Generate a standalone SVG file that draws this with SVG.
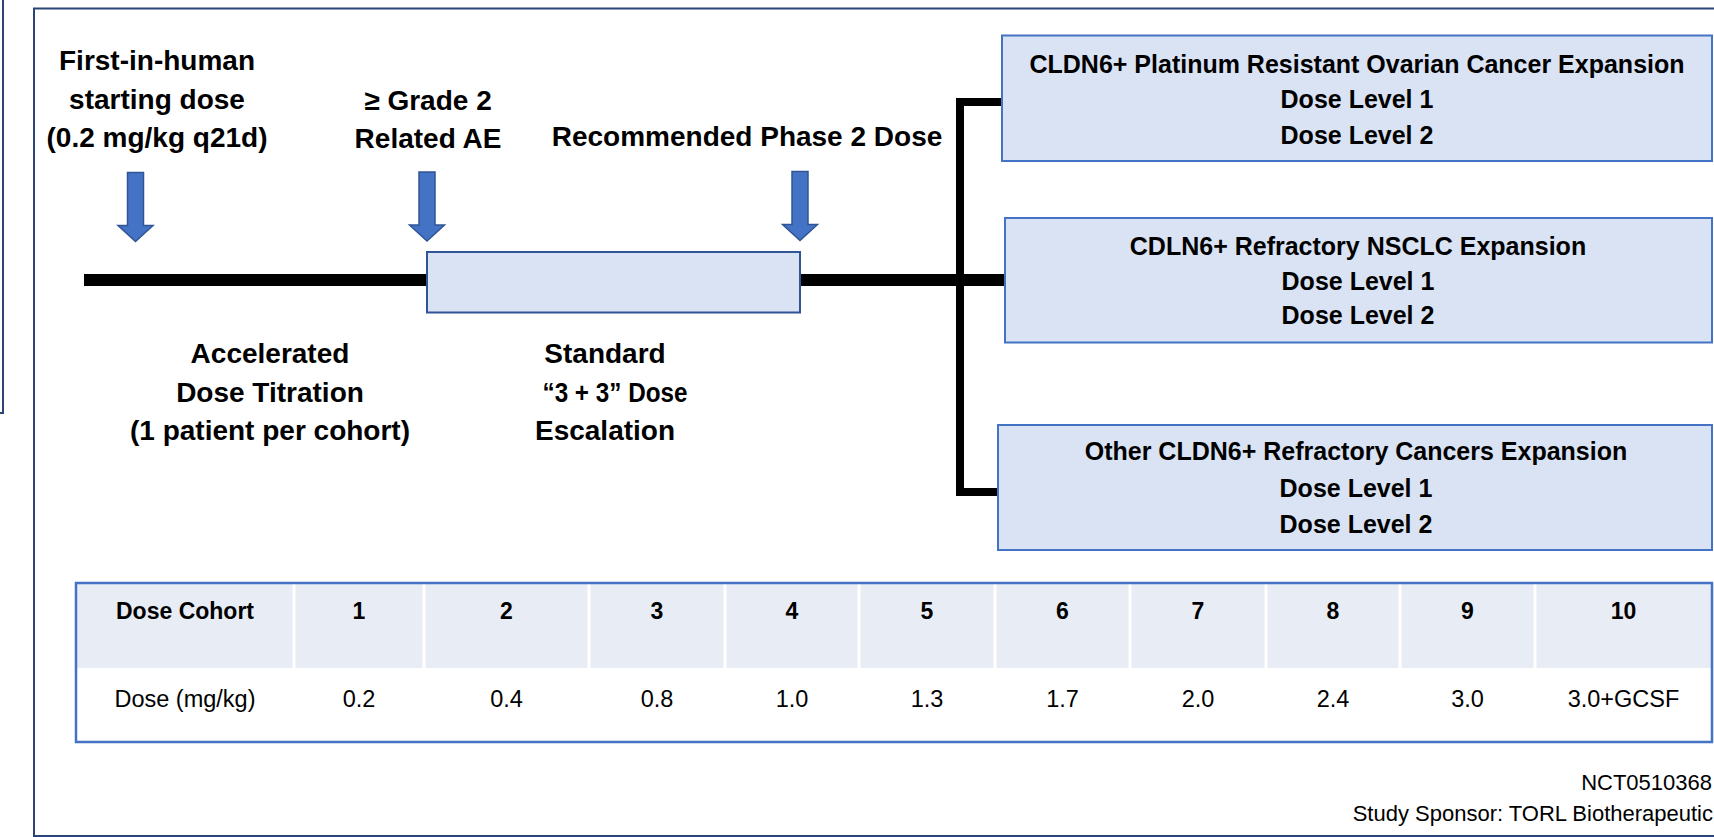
<svg xmlns="http://www.w3.org/2000/svg" width="1714" height="837" viewBox="0 0 1714 837">
<style>
  .frame{fill:none;stroke:#2B4478;stroke-width:2}
  .box{fill:#DAE3F3;stroke:#4472C4;stroke-width:2}
  .tbox{fill:#DAE3F3;stroke:#2F5597;stroke-width:2}
  .arrow{fill:#4472C4;stroke:#2F5597;stroke-width:1.5}
  .conn{fill:none;stroke:#000;stroke-linejoin:miter;stroke-linecap:butt}
  .lbl{font-family:"Liberation Sans",Arial,sans-serif;font-weight:bold;font-size:28px;fill:#000;text-anchor:middle}
  .btxt{font-family:"Liberation Sans",Arial,sans-serif;font-weight:bold;font-size:25px;fill:#000;text-anchor:middle}
  .th{font-family:"Liberation Sans",Arial,sans-serif;font-weight:bold;font-size:23px;fill:#000;text-anchor:middle}
  .td{font-family:"Liberation Sans",Arial,sans-serif;font-size:23.5px;fill:#000;text-anchor:middle}
  .foot{font-family:"Liberation Sans",Arial,sans-serif;font-size:22px;fill:#000;text-anchor:end}
</style>
<defs>
  <path id="dnArrow" d="M -8,0 H 8 V 53 H 17.5 L 0,69 L -17.5,53 H -8 Z"/>
</defs>
<rect width="1714" height="837" fill="#fff"/>
<!-- frames -->
<rect class="frame" x="-10" y="-10" width="13" height="423"/>
<rect class="frame" x="34" y="8.5" width="1700" height="827.5"/>

<!-- connectors -->
<g id="connectors">
  <line class="conn" x1="84" y1="280" x2="427" y2="280" stroke-width="12"/>
  <line class="conn" x1="800" y1="280" x2="1005" y2="280" stroke-width="12"/>
  <path class="conn" d="M 1002,102 H 960 V 492 H 998" stroke-width="8"/>
</g>

<!-- arrows -->
<g id="arrow-start"><use href="#dnArrow" class="arrow" transform="translate(135.5,172.5)"/></g>
<g id="arrow-grade2"><use href="#dnArrow" class="arrow" transform="translate(427,172)"/></g>
<g id="arrow-rp2d"><use href="#dnArrow" class="arrow" transform="translate(800,171.5)"/></g>

<!-- labels above -->
<g id="label-fih">
  <text class="lbl" x="157" y="70">First-in-human</text>
  <text class="lbl" x="157" y="108.5">starting dose</text>
  <text class="lbl" x="157" y="147">(0.2 mg/kg q21d)</text>
</g>
<g id="label-grade2">
  <text class="lbl" x="428" y="109.5">≥ Grade 2</text>
  <text class="lbl" x="428" y="148">Related AE</text>
</g>
<g id="label-rp2d">
  <text class="lbl" x="747" y="146">Recommended Phase 2 Dose</text>
</g>

<!-- timeline box -->
<g id="node-standard-box">
  <rect class="tbox" x="427" y="252" width="373" height="60.5"/>
</g>

<!-- labels below -->
<g id="label-accelerated">
  <text class="lbl" x="270" y="363">Accelerated</text>
  <text class="lbl" x="270" y="401.5">Dose Titration</text>
  <text class="lbl" x="270" y="440">(1 patient per cohort)</text>
</g>
<g id="label-standard">
  <text class="lbl" x="605" y="363">Standard</text>
  <text class="lbl" x="615" y="401.5" textLength="145" lengthAdjust="spacingAndGlyphs">“3 + 3” Dose</text>
  <text class="lbl" x="605" y="440">Escalation</text>
</g>

<!-- expansion boxes -->
<g id="node-ovarian">
  <rect class="box" x="1002" y="35.5" width="710" height="125.5"/>
  <text class="btxt" x="1357" y="72.5">CLDN6+ Platinum Resistant Ovarian Cancer Expansion</text>
  <text class="btxt" x="1357" y="108">Dose Level 1</text>
  <text class="btxt" x="1357" y="143.5">Dose Level 2</text>
</g>
<g id="node-nsclc">
  <rect class="box" x="1005" y="218" width="707" height="124.5"/>
  <text class="btxt" x="1358" y="255">CDLN6+ Refractory NSCLC Expansion</text>
  <text class="btxt" x="1358" y="289.5">Dose Level 1</text>
  <text class="btxt" x="1358" y="324">Dose Level 2</text>
</g>
<g id="node-other">
  <rect class="box" x="998" y="425" width="714" height="125"/>
  <text class="btxt" x="1356" y="460">Other CLDN6+ Refractory Cancers Expansion</text>
  <text class="btxt" x="1356" y="496.5">Dose Level 1</text>
  <text class="btxt" x="1356" y="532.5">Dose Level 2</text>
</g>

<!-- table -->
<g id="dose-table">
  <rect x="76" y="583" width="1636" height="85" fill="#E8ECF4"/>
  <g stroke="#fff" stroke-width="3">
    <line x1="294" y1="583" x2="294" y2="668"/>
    <line x1="424" y1="583" x2="424" y2="668"/>
    <line x1="589" y1="583" x2="589" y2="668"/>
    <line x1="725" y1="583" x2="725" y2="668"/>
    <line x1="859" y1="583" x2="859" y2="668"/>
    <line x1="995" y1="583" x2="995" y2="668"/>
    <line x1="1130" y1="583" x2="1130" y2="668"/>
    <line x1="1266" y1="583" x2="1266" y2="668"/>
    <line x1="1400" y1="583" x2="1400" y2="668"/>
    <line x1="1535" y1="583" x2="1535" y2="668"/>
  </g>
  <rect x="76" y="583" width="1636" height="159" fill="none" stroke="#4472C4" stroke-width="2.5"/>
  <text class="th" x="185" y="618.5">Dose Cohort</text>
  <text class="th" x="359" y="618.5">1</text>
  <text class="th" x="506.5" y="618.5">2</text>
  <text class="th" x="657" y="618.5">3</text>
  <text class="th" x="792" y="618.5">4</text>
  <text class="th" x="927" y="618.5">5</text>
  <text class="th" x="1062.5" y="618.5">6</text>
  <text class="th" x="1198" y="618.5">7</text>
  <text class="th" x="1333" y="618.5">8</text>
  <text class="th" x="1467.5" y="618.5">9</text>
  <text class="th" x="1623.5" y="618.5">10</text>
  <text class="td" x="185" y="707">Dose (mg/kg)</text>
  <text class="td" x="359" y="707">0.2</text>
  <text class="td" x="506.5" y="707">0.4</text>
  <text class="td" x="657" y="707">0.8</text>
  <text class="td" x="792" y="707">1.0</text>
  <text class="td" x="927" y="707">1.3</text>
  <text class="td" x="1062.5" y="707">1.7</text>
  <text class="td" x="1198" y="707">2.0</text>
  <text class="td" x="1333" y="707">2.4</text>
  <text class="td" x="1467.5" y="707">3.0</text>
  <text class="td" x="1623.5" y="707">3.0+GCSF</text>
</g>

<!-- footer -->
<g id="footer">
  <text class="foot" x="1712" y="790">NCT0510368</text>
  <text class="foot" x="1713" y="821">Study Sponsor: TORL Biotherapeutic</text>
</g>
</svg>
